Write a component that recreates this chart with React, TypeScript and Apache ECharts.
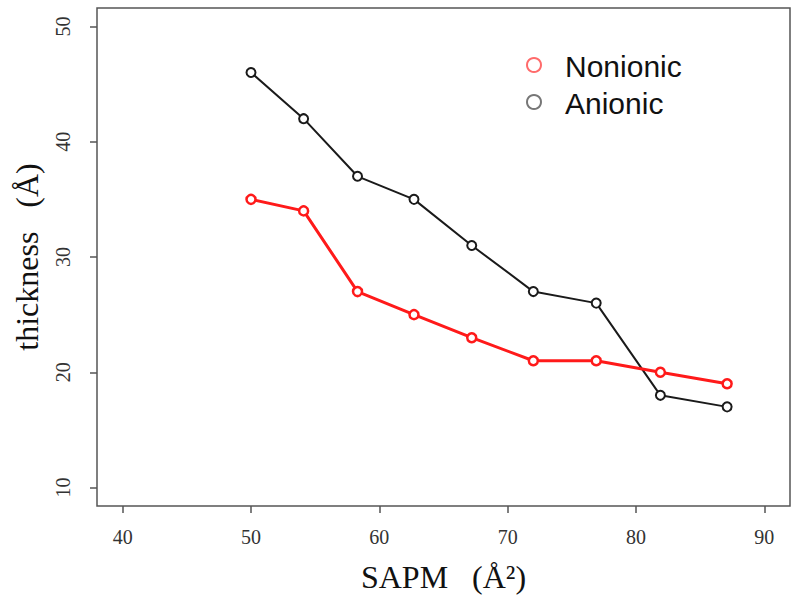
import React, { useEffect, useRef } from "react";
import * as echarts from "echarts";

const sapm = [50, 54.1, 58.3, 62.7, 67.2, 72, 76.9, 81.9, 87.1];
const nonionic = [35, 34, 27, 25, 23, 21, 21, 20, 19];
const anionic = [46, 42, 37, 35, 31, 27, 26, 18, 17];
const xTicks = [40, 50, 60, 70, 80, 90];
const yTicks = [10, 20, 30, 40, 50];
const legendNames = ["Nonionic", "Anionic"];

const SERIF = "'Liberation Serif', 'Times New Roman', serif";
const SANS = "'Liberation Sans', Arial, sans-serif";

export default function App() {
  const ref = useRef<HTMLDivElement>(null);
  useEffect(() => {
    if (!ref.current) return;
    const chart = echarts.init(ref.current, null, { renderer: "svg" });
    const zip = (ys: number[]) => sapm.map((x, i) => [x, ys[i]]);
    chart.setOption({
      animation: false,
      backgroundColor: "#ffffff",
      grid: {
        left: 97,
        right: 10,
        top: 8,
        bottom: 100,
        containLabel: false,
        outerBoundsMode: "none",
        show: true,
        borderColor: "#555555",
        borderWidth: 1.5,
        backgroundColor: "transparent",
      },
      xAxis: {
        type: "value",
        min: 38,
        max: 92,
        axisLine: { show: false },
        splitLine: { show: false },
        axisTick: {
          show: true,
          customValues: xTicks,
          length: 7,
          lineStyle: { color: "#555555", width: 1.5 },
        },
        axisLabel: {
          customValues: xTicks,
          margin: 21,
          fontSize: 20,
          fontFamily: SERIF,
          color: "#333333",
        },
        name: "SAPM   (Å²)",
        nameLocation: "middle",
        nameGap: 55,
        nameTextStyle: { fontSize: 32, fontFamily: SERIF, color: "#111111" },
      },
      yAxis: {
        type: "value",
        min: 8.4,
        max: 51.6,
        axisLine: { show: false },
        splitLine: { show: false },
        axisTick: {
          show: true,
          customValues: yTicks,
          length: 7,
          lineStyle: { color: "#555555", width: 1.5 },
        },
        axisLabel: {
          customValues: yTicks,
          rotate: 90,
          margin: 24,
          fontSize: 20,
          fontFamily: SERIF,
          color: "#333333",
        },
        name: "thickness   (Å)",
        nameLocation: "middle",
        nameGap: 54,
        nameTextStyle: { fontSize: 32, fontFamily: SERIF, color: "#111111" },
      },
      graphic: [
        {
          type: "circle",
          shape: { cx: 534, cy: 65, r: 7 },
          style: { fill: "none", stroke: "#ff6b6b", lineWidth: 2 },
        },
        {
          type: "text",
          x: 565,
          y: 66,
          style: {
            text: legendNames[0],
            font: `30px ${SANS}`,
            fill: "#111111",
            verticalAlign: "middle",
          },
        },
        {
          type: "circle",
          shape: { cx: 534, cy: 102, r: 7 },
          style: { fill: "none", stroke: "#777777", lineWidth: 2 },
        },
        {
          type: "text",
          x: 565,
          y: 103,
          style: {
            text: legendNames[1],
            font: `30px ${SANS}`,
            fill: "#111111",
            verticalAlign: "middle",
          },
        },
      ],
      series: [
        {
          name: legendNames[0],
          type: "line",
          data: zip(nonionic),
          symbol: "circle",
          symbolSize: 9,
          lineStyle: { color: "#ff1a1a", width: 3 },
          itemStyle: { color: "#ffffff", borderColor: "#ff1a1a", borderWidth: 2.5 },
          z: 3,
        },
        {
          name: legendNames[1],
          type: "line",
          data: zip(anionic),
          symbol: "circle",
          symbolSize: 9,
          lineStyle: { color: "#1a1a1a", width: 2 },
          itemStyle: { color: "#ffffff", borderColor: "#1a1a1a", borderWidth: 2 },
          z: 2,
        },
      ],
    });
    return () => chart.dispose();
  }, []);
  return <div ref={ref} style={{ width: 800, height: 606, position: "absolute", left: 0, top: 0 }} />;
}
